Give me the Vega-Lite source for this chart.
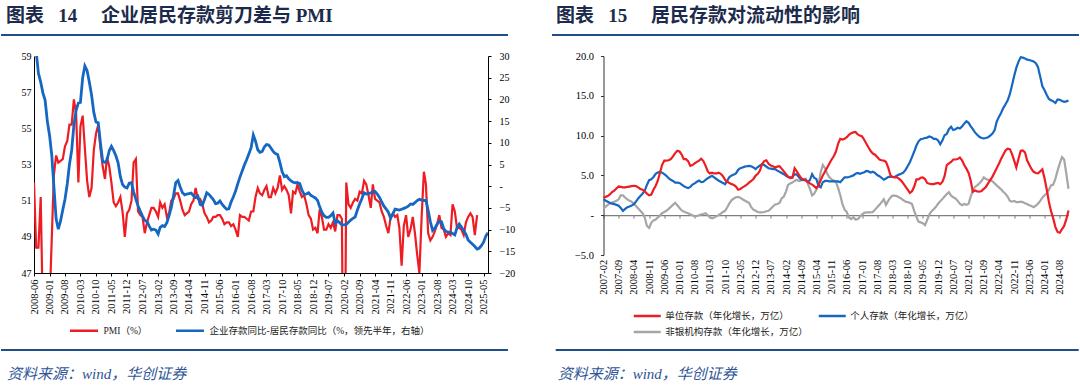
{
  "$schema": "https://vega.github.io/schema/vega-lite/v6.json",
  "autosize": {"type": "pad"},
  "padding": {"left": 0, "top": 7, "right": 0, "bottom": 0},
  "background": "white",
  "config": {
    "view": {"stroke": null},
    "axis": {"grid": false, "labelFont": "Liberation Serif", "labelColor": "#000", "domainColor": "#000", "tickColor": "#000"},
    "legend": {"labelFont": "Liberation Serif, Noto Sans CJK SC", "labelFontSize": 9.5, "labelColor": "#222", "padding": 0, "labelLimit": 400}
  },
  "datasets": {
    "left": [
      {"month":"2008-06","pmi":52.0,"gap":33},{"month":"2008-07","pmi":48.4,"gap":31},{"month":"2008-08","pmi":48.4,"gap":26},{"month":"2008-09","pmi":51.2,"gap":24},{"month":"2008-10","pmi":44.6,"gap":21.5},{"month":"2008-11","pmi":38.8,"gap":19.8},{"month":"2008-12","pmi":41.2,"gap":15},
      {"month":"2009-01","pmi":45.3,"gap":11.7},{"month":"2009-02","pmi":49.0,"gap":7},{"month":"2009-03","pmi":52.4,"gap":0},{"month":"2009-04","pmi":53.5,"gap":-7.5},{"month":"2009-05","pmi":53.1,"gap":-9.9},{"month":"2009-06","pmi":53.2,"gap":-8},{"month":"2009-07","pmi":53.3,"gap":-5.5},{"month":"2009-08","pmi":54.0,"gap":-3},{"month":"2009-09","pmi":54.3,"gap":0.5},{"month":"2009-10","pmi":55.2,"gap":5},{"month":"2009-11","pmi":55.2,"gap":8.3},{"month":"2009-12","pmi":56.6,"gap":14},
      {"month":"2010-01","pmi":55.8,"gap":17.5},{"month":"2010-02","pmi":52.0,"gap":19.2},{"month":"2010-03","pmi":55.1,"gap":19.3},{"month":"2010-04","pmi":55.7,"gap":25},{"month":"2010-05","pmi":53.9,"gap":27.7},{"month":"2010-06","pmi":52.1,"gap":26.6},{"month":"2010-07","pmi":51.2,"gap":24},{"month":"2010-08","pmi":51.7,"gap":21},{"month":"2010-09","pmi":53.8,"gap":17},{"month":"2010-10","pmi":54.7,"gap":14.8},{"month":"2010-11","pmi":55.2,"gap":14.6},{"month":"2010-12","pmi":53.9,"gap":10},
      {"month":"2011-01","pmi":52.9,"gap":5.7},{"month":"2011-02","pmi":52.2,"gap":5.5},{"month":"2011-03","pmi":53.4,"gap":6},{"month":"2011-04","pmi":52.9,"gap":8.2},{"month":"2011-05","pmi":52.0,"gap":9.2},{"month":"2011-06","pmi":50.9,"gap":8.2},{"month":"2011-07","pmi":50.7,"gap":7},{"month":"2011-08","pmi":50.9,"gap":5.4},{"month":"2011-09","pmi":51.2,"gap":2.2},{"month":"2011-10","pmi":50.4,"gap":0.4},{"month":"2011-11","pmi":49.0,"gap":-0.2},{"month":"2011-12","pmi":50.3,"gap":-0.4},
      {"month":"2012-01","pmi":50.5,"gap":0.7},{"month":"2012-02","pmi":51.0,"gap":0.8},{"month":"2012-03","pmi":53.1,"gap":-1.3},{"month":"2012-04","pmi":53.3,"gap":-3.0},{"month":"2012-05","pmi":50.4,"gap":-4.5},{"month":"2012-06","pmi":50.2,"gap":-5.8},{"month":"2012-07","pmi":50.1,"gap":-6.9},{"month":"2012-08","pmi":49.2,"gap":-7.9},{"month":"2012-09","pmi":49.8,"gap":-8.1},{"month":"2012-10","pmi":50.2,"gap":-9.2},{"month":"2012-11","pmi":50.6,"gap":-10.1},{"month":"2012-12","pmi":50.6,"gap":-9.9},
      {"month":"2013-01","pmi":50.4,"gap":-10.1},{"month":"2013-02","pmi":50.1,"gap":-11},{"month":"2013-03","pmi":50.9,"gap":-9.5},{"month":"2013-04","pmi":50.6,"gap":-9.1},{"month":"2013-05","pmi":50.8,"gap":-9.3},{"month":"2013-06","pmi":50.1,"gap":-8.4},{"month":"2013-07","pmi":50.3,"gap":-6.8},{"month":"2013-08","pmi":51.0,"gap":-4.9},{"month":"2013-09","pmi":51.1,"gap":-2.1},{"month":"2013-10","pmi":51.4,"gap":0.8},{"month":"2013-11","pmi":51.4,"gap":1.3},{"month":"2013-12","pmi":51.0,"gap":-0.2},
      {"month":"2014-01","pmi":50.5,"gap":-1.5},{"month":"2014-02","pmi":50.2,"gap":-2.0},{"month":"2014-03","pmi":50.3,"gap":-1.8},{"month":"2014-04","pmi":50.4,"gap":-1.7},{"month":"2014-05","pmi":50.8,"gap":-1.6},{"month":"2014-06","pmi":51.0,"gap":-2.2},{"month":"2014-07","pmi":51.7,"gap":-2.6},{"month":"2014-08","pmi":51.1,"gap":-2.3},{"month":"2014-09","pmi":51.1,"gap":-4.2},{"month":"2014-10","pmi":50.8,"gap":-4.4},{"month":"2014-11","pmi":50.3,"gap":-3.0},{"month":"2014-12","pmi":50.1,"gap":-1.5},
      {"month":"2015-01","pmi":49.8,"gap":-1.9},{"month":"2015-02","pmi":49.9,"gap":-2.5},{"month":"2015-03","pmi":50.1,"gap":-3.1},{"month":"2015-04","pmi":50.1,"gap":-4.0},{"month":"2015-05","pmi":50.2,"gap":-3.9},{"month":"2015-06","pmi":50.2,"gap":-3.4},{"month":"2015-07","pmi":50.0,"gap":-4.2},{"month":"2015-08","pmi":49.7,"gap":-4.8},{"month":"2015-09","pmi":49.8,"gap":-5.3},{"month":"2015-10","pmi":49.8,"gap":-5.2},{"month":"2015-11","pmi":49.6,"gap":-3.6},{"month":"2015-12","pmi":49.7,"gap":-2.5},
      {"month":"2016-01","pmi":49.4,"gap":-1.1},{"month":"2016-02","pmi":49.0,"gap":0.6},{"month":"2016-03","pmi":50.2,"gap":2.1},{"month":"2016-04","pmi":50.1,"gap":3.5},{"month":"2016-05","pmi":50.1,"gap":4.9},{"month":"2016-06","pmi":50.0,"gap":6.1},{"month":"2016-07","pmi":49.9,"gap":7.4},{"month":"2016-08","pmi":50.4,"gap":8.8},{"month":"2016-09","pmi":50.4,"gap":11.8},{"month":"2016-10","pmi":51.2,"gap":10.4},{"month":"2016-11","pmi":51.7,"gap":8.4},{"month":"2016-12","pmi":51.4,"gap":7.8},
      {"month":"2017-01","pmi":51.3,"gap":8.0},{"month":"2017-02","pmi":51.6,"gap":9.1},{"month":"2017-03","pmi":51.8,"gap":9.6},{"month":"2017-04","pmi":51.2,"gap":9.5},{"month":"2017-05","pmi":51.2,"gap":8.8},{"month":"2017-06","pmi":51.7,"gap":8.0},{"month":"2017-07","pmi":51.4,"gap":7.5},{"month":"2017-08","pmi":51.7,"gap":7.3},{"month":"2017-09","pmi":52.4,"gap":5.5},{"month":"2017-10","pmi":51.6,"gap":3.4},{"month":"2017-11","pmi":51.8,"gap":2.2},{"month":"2017-12","pmi":51.6,"gap":2.4},
      {"month":"2018-01","pmi":51.3,"gap":1.7},{"month":"2018-02","pmi":50.3,"gap":1.2},{"month":"2018-03","pmi":51.5,"gap":0.9},{"month":"2018-04","pmi":51.4,"gap":0.8},{"month":"2018-05","pmi":51.9,"gap":0.8},{"month":"2018-06","pmi":51.5,"gap":0.6},{"month":"2018-07","pmi":51.2,"gap":-0.9},{"month":"2018-08","pmi":51.3,"gap":-1.9},{"month":"2018-09","pmi":50.8,"gap":-1.8},{"month":"2018-10","pmi":50.2,"gap":-1.5},{"month":"2018-11","pmi":50.0,"gap":-2.1},{"month":"2018-12","pmi":49.4,"gap":-2.4},
      {"month":"2019-01","pmi":49.5,"gap":-2.7},{"month":"2019-02","pmi":49.2,"gap":-3.3},{"month":"2019-03","pmi":50.5,"gap":-4.7},{"month":"2019-04","pmi":50.1,"gap":-6.0},{"month":"2019-05","pmi":49.4,"gap":-6.8},{"month":"2019-06","pmi":49.4,"gap":-7.2},{"month":"2019-07","pmi":49.7,"gap":-7.2},{"month":"2019-08","pmi":49.5,"gap":-6.8},{"month":"2019-09","pmi":49.8,"gap":-6.2},{"month":"2019-10","pmi":49.3,"gap":-8.5},{"month":"2019-11","pmi":50.2,"gap":-8.0},{"month":"2019-12","pmi":50.2,"gap":-8.4},
      {"month":"2020-01","pmi":50.0,"gap":-8.9},{"month":"2020-02","pmi":35.7,"gap":-8.9},{"month":"2020-03","pmi":52.0,"gap":-8.8},{"month":"2020-04","pmi":50.8,"gap":-8.3},{"month":"2020-05","pmi":50.6,"gap":-7.8},{"month":"2020-06","pmi":50.9,"gap":-7.4},{"month":"2020-07","pmi":51.1,"gap":-7.1},{"month":"2020-08","pmi":51.0,"gap":-5.5},{"month":"2020-09","pmi":51.5,"gap":-4.1},{"month":"2020-10","pmi":51.4,"gap":-2.9},{"month":"2020-11","pmi":52.1,"gap":-1.5},{"month":"2020-12","pmi":51.9,"gap":-1.8},
      {"month":"2021-01","pmi":51.3,"gap":-1.7},{"month":"2021-02","pmi":50.6,"gap":-1.5},{"month":"2021-03","pmi":51.9,"gap":-1.3},{"month":"2021-04","pmi":51.1,"gap":-1.2},{"month":"2021-05","pmi":51.0,"gap":-1.8},{"month":"2021-06","pmi":50.9,"gap":-2.6},{"month":"2021-07","pmi":50.4,"gap":-3.6},{"month":"2021-08","pmi":50.1,"gap":-4.6},{"month":"2021-09","pmi":49.6,"gap":-5.3},{"month":"2021-10","pmi":49.2,"gap":-6.0},{"month":"2021-11","pmi":50.1,"gap":-7.4},{"month":"2021-12","pmi":50.3,"gap":-6.4},
      {"month":"2022-01","pmi":50.1,"gap":-5.3},{"month":"2022-02","pmi":50.2,"gap":-5.4},{"month":"2022-03","pmi":49.5,"gap":-5.5},{"month":"2022-04","pmi":47.4,"gap":-5.3},{"month":"2022-05","pmi":49.6,"gap":-5.1},{"month":"2022-06","pmi":50.2,"gap":-4.9},{"month":"2022-07","pmi":49.0,"gap":-4.6},{"month":"2022-08","pmi":49.4,"gap":-4.1},{"month":"2022-09","pmi":50.1,"gap":-4.2},{"month":"2022-10","pmi":49.2,"gap":-3.8},{"month":"2022-11","pmi":48.0,"gap":-3.3},{"month":"2022-12","pmi":47.0,"gap":-3.0},
      {"month":"2023-01","pmi":50.1,"gap":-3.2},{"month":"2023-02","pmi":52.6,"gap":-3.3},{"month":"2023-03","pmi":51.9,"gap":-3.2},{"month":"2023-04","pmi":49.2,"gap":-5.6},{"month":"2023-05","pmi":48.8,"gap":-8.2},{"month":"2023-06","pmi":49.0,"gap":-10.2},{"month":"2023-07","pmi":49.3,"gap":-9.7},{"month":"2023-08","pmi":49.7,"gap":-8.8},{"month":"2023-09","pmi":50.2,"gap":-8.1},{"month":"2023-10","pmi":49.5,"gap":-8.2},{"month":"2023-11","pmi":49.4,"gap":-9.8},{"month":"2023-12","pmi":49.0,"gap":-10.4},
      {"month":"2024-01","pmi":49.2,"gap":-10.6},{"month":"2024-02","pmi":49.1,"gap":-10.6},{"month":"2024-03","pmi":50.8,"gap":-10.9},{"month":"2024-04","pmi":50.4,"gap":-11.2},{"month":"2024-05","pmi":49.5,"gap":-9.6},{"month":"2024-06","pmi":49.5,"gap":-8.7},{"month":"2024-07","pmi":49.4,"gap":-9.4},{"month":"2024-08","pmi":49.1,"gap":-10.2},{"month":"2024-09","pmi":49.8,"gap":-11.1},{"month":"2024-10","pmi":50.1,"gap":-12.4},{"month":"2024-11","pmi":50.3,"gap":-12.9},{"month":"2024-12","pmi":50.1,"gap":-13.4},
      {"month":"2025-01","pmi":49.1,"gap":-13.9},{"month":"2025-02","pmi":50.2,"gap":-14.5},{"month":"2025-03","pmi":null,"gap":-14.3},{"month":"2025-04","pmi":null,"gap":-13.7},{"month":"2025-05","pmi":null,"gap":-12.9},{"month":"2025-06","pmi":null,"gap":-11.5},{"month":"2025-07","pmi":null,"gap":-10.7}
    ],
    "right": [
      {"month":"2007-02","corp":2.2,"household":2.0,"nonbank":0.8},{"month":"2007-03","corp":2.3,"household":1.85,"nonbank":1.05},{"month":"2007-04","corp":2.4,"household":1.7,"nonbank":1.3},{"month":"2007-05","corp":2.6,"household":1.55,"nonbank":1.45},{"month":"2007-06","corp":2.9,"household":1.45,"nonbank":1.6},{"month":"2007-07","corp":3.1,"household":1.4,"nonbank":1.7},{"month":"2007-08","corp":3.35,"household":1.3,"nonbank":1.8},{"month":"2007-09","corp":3.6,"household":1.2,"nonbank":2.0},{"month":"2007-10","corp":3.55,"household":0.9,"nonbank":2.5},{"month":"2007-11","corp":3.5,"household":0.55,"nonbank":2.5},{"month":"2007-12","corp":3.5,"household":0.8,"nonbank":2.2},
      {"month":"2008-01","corp":3.55,"household":1.0,"nonbank":2.0},{"month":"2008-02","corp":3.6,"household":1.1,"nonbank":1.8},{"month":"2008-03","corp":3.65,"household":1.2,"nonbank":1.7},{"month":"2008-04","corp":3.7,"household":1.4,"nonbank":1.45},{"month":"2008-05","corp":3.65,"household":1.7,"nonbank":1.15},{"month":"2008-06","corp":3.5,"household":2.1,"nonbank":0.85},{"month":"2008-07","corp":3.3,"household":2.4,"nonbank":0.55},{"month":"2008-08","corp":3.2,"household":2.7,"nonbank":0.25},{"month":"2008-09","corp":3.0,"household":3.1,"nonbank":-0.3},{"month":"2008-10","corp":2.7,"household":3.8,"nonbank":-1.35},{"month":"2008-11","corp":2.5,"household":4.4,"nonbank":-1.6},{"month":"2008-12","corp":2.6,"household":4.5,"nonbank":-0.95},
      {"month":"2009-01","corp":3.2,"household":4.8,"nonbank":-0.65},{"month":"2009-02","corp":3.7,"household":5.2,"nonbank":-0.55},{"month":"2009-03","corp":4.3,"household":5.35,"nonbank":-0.3},{"month":"2009-04","corp":5.3,"household":5.45,"nonbank":-0.05},{"month":"2009-05","corp":6.3,"household":5.35,"nonbank":0.25},{"month":"2009-06","corp":6.85,"household":5.15,"nonbank":0.4},{"month":"2009-07","corp":6.85,"household":4.95,"nonbank":0.55},{"month":"2009-08","corp":6.9,"household":4.65,"nonbank":0.8},{"month":"2009-09","corp":7.05,"household":4.45,"nonbank":1.05},{"month":"2009-10","corp":7.4,"household":4.3,"nonbank":1.3},{"month":"2009-11","corp":7.8,"household":4.1,"nonbank":1.55},{"month":"2009-12","corp":8.1,"household":4.1,"nonbank":1.25},
      {"month":"2010-01","corp":8.0,"household":4.05,"nonbank":0.9},{"month":"2010-02","corp":7.6,"household":3.85,"nonbank":0.6},{"month":"2010-03","corp":7.05,"household":3.65,"nonbank":0.45},{"month":"2010-04","corp":7.05,"household":3.5,"nonbank":0.35},{"month":"2010-05","corp":6.8,"household":3.4,"nonbank":0.25},{"month":"2010-06","corp":6.2,"household":3.55,"nonbank":0.1},{"month":"2010-07","corp":6.3,"household":3.85,"nonbank":0},{"month":"2010-08","corp":6.5,"household":4.0,"nonbank":-0.15},{"month":"2010-09","corp":6.7,"household":4.2,"nonbank":-0.1},{"month":"2010-10","corp":6.85,"household":4.35,"nonbank":0},{"month":"2010-11","corp":7.1,"household":4.15,"nonbank":0.1},{"month":"2010-12","corp":6.8,"household":4.2,"nonbank":0.15},
      {"month":"2011-01","corp":6.2,"household":4.45,"nonbank":0.25},{"month":"2011-02","corp":5.5,"household":4.65,"nonbank":0},{"month":"2011-03","corp":5.25,"household":4.8,"nonbank":-0.25},{"month":"2011-04","corp":5.35,"household":4.95,"nonbank":-0.4},{"month":"2011-05","corp":5.25,"household":4.75,"nonbank":-0.3},{"month":"2011-06","corp":5.25,"household":4.55,"nonbank":-0.15},{"month":"2011-07","corp":5.35,"household":4.35,"nonbank":0},{"month":"2011-08","corp":5.2,"household":4.2,"nonbank":0.2},{"month":"2011-09","corp":4.9,"household":4.05,"nonbank":0.4},{"month":"2011-10","corp":4.45,"household":3.9,"nonbank":0.55},{"month":"2011-11","corp":4.2,"household":4.35,"nonbank":1.0},{"month":"2011-12","corp":4.05,"household":4.8,"nonbank":1.5},
      {"month":"2012-01","corp":3.9,"household":5.0,"nonbank":1.9},{"month":"2012-02","corp":3.8,"household":5.1,"nonbank":2.1},{"month":"2012-03","corp":3.6,"household":5.25,"nonbank":2.25},{"month":"2012-04","corp":3.2,"household":5.7,"nonbank":2.3},{"month":"2012-05","corp":3.3,"household":5.9,"nonbank":2.2},{"month":"2012-06","corp":3.5,"household":6.0,"nonbank":2.0},{"month":"2012-07","corp":3.65,"household":6.1,"nonbank":1.85},{"month":"2012-08","corp":3.85,"household":6.15,"nonbank":1.7},{"month":"2012-09","corp":4.1,"household":6.2,"nonbank":1.55},{"month":"2012-10","corp":4.3,"household":6.15,"nonbank":1.0},{"month":"2012-11","corp":4.55,"household":6.0,"nonbank":0.7},{"month":"2012-12","corp":4.95,"household":5.8,"nonbank":0.55},
      {"month":"2013-01","corp":5.2,"household":6.05,"nonbank":0.4},{"month":"2013-02","corp":5.6,"household":6.25,"nonbank":0.35},{"month":"2013-03","corp":6.4,"household":6.4,"nonbank":0.35},{"month":"2013-04","corp":6.8,"household":6.3,"nonbank":0.4},{"month":"2013-05","corp":6.9,"household":6.1,"nonbank":0.5},{"month":"2013-06","corp":6.45,"household":5.9,"nonbank":0.55},{"month":"2013-07","corp":6.25,"household":5.85,"nonbank":0.8},{"month":"2013-08","corp":6.15,"household":5.8,"nonbank":1.1},{"month":"2013-09","corp":6.0,"household":5.8,"nonbank":1.35},{"month":"2013-10","corp":6.1,"household":5.6,"nonbank":1.4},{"month":"2013-11","corp":6.15,"household":5.45,"nonbank":1.55},{"month":"2013-12","corp":5.85,"household":5.3,"nonbank":2.1},
      {"month":"2014-01","corp":5.5,"household":5.15,"nonbank":2.35},{"month":"2014-02","corp":5.15,"household":4.95,"nonbank":3.0},{"month":"2014-03","corp":4.85,"household":4.8,"nonbank":3.8},{"month":"2014-04","corp":4.65,"household":4.75,"nonbank":4.0},{"month":"2014-05","corp":4.7,"household":4.8,"nonbank":4.1},{"month":"2014-06","corp":5.9,"household":5.15,"nonbank":4.3},{"month":"2014-07","corp":5.5,"household":5.1,"nonbank":4.45},{"month":"2014-08","corp":5.05,"household":4.75,"nonbank":4.3},{"month":"2014-09","corp":4.65,"household":4.45,"nonbank":4.4},{"month":"2014-10","corp":4.5,"household":4.4,"nonbank":4.5},{"month":"2014-11","corp":4.35,"household":4.45,"nonbank":4.6},{"month":"2014-12","corp":4.2,"household":4.2,"nonbank":4.0},
      {"month":"2015-01","corp":4.0,"household":4.4,"nonbank":3.3},{"month":"2015-02","corp":3.85,"household":5.15,"nonbank":2.5},{"month":"2015-03","corp":3.65,"household":4.7,"nonbank":2.7},{"month":"2015-04","corp":3.4,"household":4.55,"nonbank":3.2},{"month":"2015-05","corp":3.7,"household":3.7,"nonbank":3.8},{"month":"2015-06","corp":4.4,"household":3.5,"nonbank":5.4},{"month":"2015-07","corp":5.0,"household":4.15,"nonbank":6.3},{"month":"2015-08","corp":5.5,"household":4.3,"nonbank":5.9},{"month":"2015-09","corp":6.0,"household":4.3,"nonbank":5.2},{"month":"2015-10","corp":6.5,"household":4.25,"nonbank":4.75},{"month":"2015-11","corp":7.0,"household":4.25,"nonbank":4.5},{"month":"2015-12","corp":7.4,"household":4.25,"nonbank":4.35},
      {"month":"2016-01","corp":8.0,"household":4.25,"nonbank":4.2},{"month":"2016-02","corp":9.0,"household":4.25,"nonbank":3.4},{"month":"2016-03","corp":9.6,"household":4.15,"nonbank":2.5},{"month":"2016-04","corp":9.5,"household":4.45,"nonbank":1.4},{"month":"2016-05","corp":9.6,"household":4.75,"nonbank":0.7},{"month":"2016-06","corp":9.8,"household":4.75,"nonbank":0.4},{"month":"2016-07","corp":10.1,"household":4.8,"nonbank":-0.3},{"month":"2016-08","corp":10.3,"household":4.9,"nonbank":-0.5},{"month":"2016-09","corp":10.4,"household":5.0,"nonbank":-0.25},{"month":"2016-10","corp":10.45,"household":5.2,"nonbank":-0.55},{"month":"2016-11","corp":10.15,"household":5.3,"nonbank":-0.5},{"month":"2016-12","corp":10.0,"household":5.2,"nonbank":-0.2},
      {"month":"2017-01","corp":9.9,"household":5.3,"nonbank":0.1},{"month":"2017-02","corp":9.45,"household":5.4,"nonbank":0.3},{"month":"2017-03","corp":9.0,"household":5.55,"nonbank":0.35},{"month":"2017-04","corp":8.5,"household":5.5,"nonbank":0.35},{"month":"2017-05","corp":8.05,"household":5.35,"nonbank":0.35},{"month":"2017-06","corp":7.75,"household":5.45,"nonbank":0.4},{"month":"2017-07","corp":7.6,"household":5.3,"nonbank":0.7},{"month":"2017-08","corp":7.3,"household":5.05,"nonbank":1.0},{"month":"2017-09","corp":7.0,"household":4.9,"nonbank":1.3},{"month":"2017-10","corp":6.9,"household":4.7,"nonbank":1.65},{"month":"2017-11","corp":6.85,"household":4.45,"nonbank":2.0},{"month":"2017-12","corp":6.7,"household":4.6,"nonbank":1.3},
      {"month":"2018-01","corp":6.0,"household":4.8,"nonbank":1.8},{"month":"2018-02","corp":5.05,"household":4.85,"nonbank":2.2},{"month":"2018-03","corp":4.8,"household":4.8,"nonbank":2.45},{"month":"2018-04","corp":4.75,"household":4.8,"nonbank":2.45},{"month":"2018-05","corp":4.75,"household":4.95,"nonbank":2.4},{"month":"2018-06","corp":4.6,"household":5.1,"nonbank":2.25},{"month":"2018-07","corp":4.35,"household":5.2,"nonbank":2.1},{"month":"2018-08","corp":4.0,"household":5.35,"nonbank":1.9},{"month":"2018-09","corp":3.6,"household":5.7,"nonbank":1.7},{"month":"2018-10","corp":3.2,"household":6.15,"nonbank":1.65},{"month":"2018-11","corp":2.8,"household":6.65,"nonbank":1.55},{"month":"2018-12","corp":3.0,"household":7.3,"nonbank":1.4},
      {"month":"2019-01","corp":3.6,"household":8.0,"nonbank":0.55},{"month":"2019-02","corp":4.5,"household":8.75,"nonbank":-0.2},{"month":"2019-03","corp":4.5,"household":9.25,"nonbank":-0.8},{"month":"2019-04","corp":4.7,"household":9.55,"nonbank":-0.9},{"month":"2019-05","corp":4.75,"household":9.6,"nonbank":-1.0},{"month":"2019-06","corp":4.55,"household":9.7,"nonbank":-1.25},{"month":"2019-07","corp":4.05,"household":9.75,"nonbank":-0.6},{"month":"2019-08","corp":3.95,"household":9.9,"nonbank":0.1},{"month":"2019-09","corp":3.9,"household":9.8,"nonbank":0.5},{"month":"2019-10","corp":3.9,"household":9.6,"nonbank":0.75},{"month":"2019-11","corp":4.0,"household":9.6,"nonbank":1.05},{"month":"2019-12","corp":4.05,"household":9.4,"nonbank":1.45},
      {"month":"2020-01","corp":3.9,"household":8.9,"nonbank":1.75},{"month":"2020-02","corp":4.2,"household":9.4,"nonbank":2.05},{"month":"2020-03","corp":4.9,"household":10.05,"nonbank":2.35},{"month":"2020-04","corp":6.3,"household":10.2,"nonbank":2.65},{"month":"2020-05","corp":6.5,"household":10.8,"nonbank":2.9},{"month":"2020-06","corp":6.7,"household":11.1,"nonbank":2.45},{"month":"2020-07","corp":7.0,"household":10.7,"nonbank":2.25},{"month":"2020-08","corp":7.0,"household":10.8,"nonbank":2.1},{"month":"2020-09","corp":7.05,"household":11.0,"nonbank":1.8},{"month":"2020-10","corp":7.25,"household":10.9,"nonbank":1.45},{"month":"2020-11","corp":6.9,"household":11.15,"nonbank":1.25},{"month":"2020-12","corp":6.3,"household":11.5,"nonbank":1.4},
      {"month":"2021-01","corp":5.85,"household":11.8,"nonbank":1.3},{"month":"2021-02","corp":5.3,"household":11.6,"nonbank":1.45},{"month":"2021-03","corp":4.4,"household":11.2,"nonbank":2.3},{"month":"2021-04","corp":2.95,"household":10.8,"nonbank":3.1},{"month":"2021-05","corp":3.1,"household":10.4,"nonbank":3.55},{"month":"2021-06","corp":3.0,"household":10.1,"nonbank":3.75},{"month":"2021-07","corp":2.95,"household":9.85,"nonbank":4.0},{"month":"2021-08","corp":3.05,"household":9.7,"nonbank":4.3},{"month":"2021-09","corp":3.3,"household":9.65,"nonbank":4.75},{"month":"2021-10","corp":3.55,"household":9.7,"nonbank":4.55},{"month":"2021-11","corp":4.0,"household":9.8,"nonbank":4.45},{"month":"2021-12","corp":4.4,"household":10.0,"nonbank":4.45},
      {"month":"2022-01","corp":4.85,"household":10.25,"nonbank":4.25},{"month":"2022-02","corp":5.4,"household":10.7,"nonbank":4.0},{"month":"2022-03","corp":5.9,"household":11.75,"nonbank":3.75},{"month":"2022-04","corp":6.45,"household":12.35,"nonbank":3.5},{"month":"2022-05","corp":7.05,"household":12.85,"nonbank":3.25},{"month":"2022-06","corp":7.6,"household":13.45,"nonbank":2.95},{"month":"2022-07","corp":8.1,"household":13.9,"nonbank":2.7},{"month":"2022-08","corp":8.35,"household":14.4,"nonbank":2.35},{"month":"2022-09","corp":8.3,"household":15.2,"nonbank":1.8},{"month":"2022-10","corp":7.7,"household":16.3,"nonbank":1.7},{"month":"2022-11","corp":6.85,"household":17.5,"nonbank":1.8},{"month":"2022-12","corp":6.0,"household":18.5,"nonbank":1.65},
      {"month":"2023-01","corp":7.1,"household":19.3,"nonbank":1.65},{"month":"2023-02","corp":8.1,"household":19.85,"nonbank":1.7},{"month":"2023-03","corp":8.15,"household":19.8,"nonbank":1.65},{"month":"2023-04","corp":7.9,"household":19.7,"nonbank":1.5},{"month":"2023-05","corp":6.9,"household":19.55,"nonbank":1.4},{"month":"2023-06","corp":6.35,"household":19.5,"nonbank":1.25},{"month":"2023-07","corp":5.8,"household":19.4,"nonbank":1.15},{"month":"2023-08","corp":5.45,"household":19.3,"nonbank":1.0},{"month":"2023-09","corp":5.3,"household":19.1,"nonbank":1.2},{"month":"2023-10","corp":5.25,"household":18.6,"nonbank":1.45},{"month":"2023-11","corp":5.5,"household":17.4,"nonbank":1.8},{"month":"2023-12","corp":5.75,"household":16.2,"nonbank":2.2},
      {"month":"2024-01","corp":4.6,"household":15.7,"nonbank":2.5},{"month":"2024-02","corp":3.2,"household":15.1,"nonbank":2.75},{"month":"2024-03","corp":1.7,"household":14.6,"nonbank":3.2},{"month":"2024-04","corp":0.5,"household":14.45,"nonbank":3.75},{"month":"2024-05","corp":-0.4,"household":14.3,"nonbank":3.85},{"month":"2024-06","corp":-1.5,"household":14.1,"nonbank":4.6},{"month":"2024-07","corp":-2.1,"household":14.55,"nonbank":5.6},{"month":"2024-08","corp":-2.2,"household":14.5,"nonbank":6.5},{"month":"2024-09","corp":-1.75,"household":14.35,"nonbank":7.3},{"month":"2024-10","corp":-1.35,"household":14.25,"nonbank":7.0},{"month":"2024-11","corp":-0.5,"household":14.3,"nonbank":5.2},{"month":"2024-12","corp":0.6,"household":14.4,"nonbank":3.3}
    ]
  },
  "spacing": 15,
  "vconcat": [
    {
      "spacing": 42,
      "hconcat": [
        {
          "width": 507, "height": 1,
          "data": {"values": [{"v": 0}]},
          "mark": {"type": "rule", "color": "#1f4e8a", "strokeWidth": 2},
          "encoding": {"y": {"field": "v", "type": "quantitative", "axis": null, "scale": {"domain": [0, 1]}}},
          "title": {"text": "图表\u00a0\u00a0\u00a014\u3000\u00a0企业居民存款剪刀差与 PMI", "anchor": "start", "orient": "top", "dx": 6, "offset": 8, "font": "Liberation Serif, Noto Sans CJK SC", "fontSize": 19, "fontWeight": "bold", "color": "#1c2b4b"}
        },
        {
          "width": 527, "height": 1,
          "data": {"values": [{"v": 0}]},
          "mark": {"type": "rule", "color": "#1f4e8a", "strokeWidth": 2},
          "encoding": {"y": {"field": "v", "type": "quantitative", "axis": null, "scale": {"domain": [0, 1]}}},
          "title": {"text": "图表\u00a0\u00a0\u00a015\u3000\u00a0居民存款对流动性的影响", "anchor": "start", "orient": "top", "dx": 5, "offset": 8, "font": "Liberation Serif, Noto Sans CJK SC", "fontSize": 19, "fontWeight": "bold", "color": "#1c2b4b"}
        }
      ]
    },
    {
      "spacing": 12,
      "vconcat": [
        {
          "spacing": 37.5,
          "resolve": {"scale": {"color": "independent"}, "legend": {"color": "independent"}},
          "hconcat": [
            {
              "spacing": 0,
              "resolve": {"scale": {"color": "independent"}, "legend": {"color": "independent"}},
              "hconcat": [
                {
                  "width": 1, "height": 1,
                  "data": {"values": [{"k": 0}]},
                  "mark": {"type": "point", "opacity": 0, "size": 0},
                  "encoding": {}
                },
                {
                  "width": 454, "height": 217,
                  "data": {"name": "left", "format": {"parse": {"month": "utc:'%Y-%m'"}}},
                  "resolve": {"scale": {"y": "independent"}},
                  "encoding": {
                    "x": {"field": "month", "type": "temporal", "scale": {"type": "utc", "nice": false},
                      "axis": {"title": null, "values": [{"year":2008,"month":6,"utc":true},{"year":2009,"month":1,"utc":true},{"year":2009,"month":8,"utc":true},{"year":2010,"month":3,"utc":true},{"year":2010,"month":10,"utc":true},{"year":2011,"month":5,"utc":true},{"year":2011,"month":12,"utc":true},{"year":2012,"month":7,"utc":true},{"year":2013,"month":2,"utc":true},{"year":2013,"month":9,"utc":true},{"year":2014,"month":4,"utc":true},{"year":2014,"month":11,"utc":true},{"year":2015,"month":6,"utc":true},{"year":2016,"month":1,"utc":true},{"year":2016,"month":8,"utc":true},{"year":2017,"month":3,"utc":true},{"year":2017,"month":10,"utc":true},{"year":2018,"month":5,"utc":true},{"year":2018,"month":12,"utc":true},{"year":2019,"month":7,"utc":true},{"year":2020,"month":2,"utc":true},{"year":2020,"month":9,"utc":true},{"year":2021,"month":4,"utc":true},{"year":2021,"month":11,"utc":true},{"year":2022,"month":6,"utc":true},{"year":2023,"month":1,"utc":true},{"year":2023,"month":8,"utc":true},{"year":2024,"month":3,"utc":true},{"year":2024,"month":10,"utc":true},{"year":2025,"month":5,"utc":true}],
                        "labelExpr": "utcFormat(datum.value, '%Y-%m')", "labelAngle": 270, "labelFontSize": 10.5, "labelPadding": 3, "tickSize": 3, "labelOverlap": false, "labelFlush": false}}
                  },
                  "layer": [
                    {
                      "mark": {"type": "line", "strokeWidth": 2.2, "clip": true},
                      "encoding": {
                        "y": {"field": "pmi", "type": "quantitative", "scale": {"domain": [47, 59], "nice": false, "zero": false},
                          "axis": {"title": null, "values": [47, 49, 51, 53, 55, 57, 59], "ticks": false, "labelPadding": 3, "labelFontSize": 10, "minExtent": 31.5, "maxExtent": 31.5, "labelFlush": false, "labelOverlap": false}},
                        "color": {"datum": "PMI（%）", "type": "nominal",
                          "scale": {"domain": ["PMI（%）", "企业存款同比-居民存款同比（%，领先半年，右轴）"], "range": ["#ee1d23", "#1567c2"]},
                          "legend": {"title": null, "orient": "none", "direction": "horizontal", "legendX": 34.5, "legendY": 259, "symbolType": "stroke", "symbolSize": 784, "symbolStrokeWidth": 2.5, "labelOffset": 4, "columnPadding": 23}}
                      }
                    },
                    {
                      "mark": {"type": "line", "strokeWidth": 2.8, "clip": true},
                      "encoding": {
                        "y": {"field": "gap", "type": "quantitative", "scale": {"domain": [-20, 30], "nice": false, "zero": false},
                          "axis": {"title": null, "orient": "right", "values": [-20, -15, -10, -5, 0, 5, 10, 15, 20, 25, 30], "labelExpr": "datum.value == 0 ? '-' : datum.label", "tickSize": 3, "labelPadding": 8, "labelFontSize": 10, "minExtent": 25, "maxExtent": 25, "labelFlush": false, "labelOverlap": false}},
                        "color": {"datum": "企业存款同比-居民存款同比（%，领先半年，右轴）", "type": "nominal"}
                      }
                    }
                  ]
                }
              ]
            },
            {
              "width": 465, "height": 199,
              "data": {"name": "right", "format": {"parse": {"month": "utc:'%Y-%m'"}}},
              "transform": [{"fold": ["nonbank", "household", "corp"], "as": ["series", "value"]}],
              "mark": {"type": "line", "strokeWidth": 2.2},
              "encoding": {
                "x": {"field": "month", "type": "temporal", "scale": {"type": "utc", "nice": false},
                  "axis": {"title": null, "orient": "bottom", "offset": -39.8, "values": [{"year":2007,"month":2,"utc":true},{"year":2007,"month":9,"utc":true},{"year":2008,"month":4,"utc":true},{"year":2008,"month":11,"utc":true},{"year":2009,"month":6,"utc":true},{"year":2010,"month":1,"utc":true},{"year":2010,"month":8,"utc":true},{"year":2011,"month":3,"utc":true},{"year":2011,"month":10,"utc":true},{"year":2012,"month":5,"utc":true},{"year":2012,"month":12,"utc":true},{"year":2013,"month":7,"utc":true},{"year":2014,"month":2,"utc":true},{"year":2014,"month":9,"utc":true},{"year":2015,"month":4,"utc":true},{"year":2015,"month":11,"utc":true},{"year":2016,"month":6,"utc":true},{"year":2017,"month":1,"utc":true},{"year":2017,"month":8,"utc":true},{"year":2018,"month":3,"utc":true},{"year":2018,"month":10,"utc":true},{"year":2019,"month":5,"utc":true},{"year":2019,"month":12,"utc":true},{"year":2020,"month":7,"utc":true},{"year":2021,"month":2,"utc":true},{"year":2021,"month":9,"utc":true},{"year":2022,"month":4,"utc":true},{"year":2022,"month":11,"utc":true},{"year":2023,"month":6,"utc":true},{"year":2024,"month":1,"utc":true},{"year":2024,"month":8,"utc":true}],
                    "labelExpr": "utcFormat(datum.value, '%Y-%m')", "labelAngle": 270, "labelFontSize": 10.5, "labelPadding": 41, "domain": true, "domainColor": "#7f7f7f", "domainWidth": 1.2, "ticks": true, "tickColor": "#7f7f7f", "tickSize": 3, "labelOverlap": false, "labelFlush": false}},
                "y": {"field": "value", "type": "quantitative", "scale": {"domain": [-5, 20], "nice": false, "zero": false},
                  "axis": {"title": null, "values": [-5, 0, 5, 10, 15, 20], "labelExpr": "datum.value == 0 ? '-' : format(datum.value, '.1f')", "tickSize": 3, "labelPadding": 7, "labelFontSize": 10.5, "domainColor": "#333", "tickColor": "#333", "minExtent": 50.5, "maxExtent": 50.5, "labelFlush": false, "labelOverlap": false}},
                "color": {"field": "series", "type": "nominal",
                  "scale": {"domain": ["corp", "nonbank", "household"], "range": ["#ee1d23", "#a6a6a6", "#1567c2"]},
                  "legend": {"title": null, "orient": "none", "columns": 2, "legendX": 35.75, "legendY": 252, "symbolType": "M-2,0H2", "symbolSize": 182, "symbolStrokeWidth": 2.5, "labelOffset": 10, "columnPadding": 5, "rowPadding": 3,
                    "labelExpr": "datum.label == 'corp' ? '单位存款（年化增长，万亿）' : datum.label == 'household' ? '个人存款（年化增长，万亿）' : '非银机构存款（年化增长，万亿）'"}}
              }
            }
          ]
        },
        {
          "spacing": 45.7,
          "hconcat": [
            {
              "width": 507, "height": 1,
              "data": {"values": [{"v": 1}]},
              "mark": {"type": "rule", "color": "#1f4e8a", "strokeWidth": 2},
              "encoding": {"y": {"field": "v", "type": "quantitative", "axis": null, "scale": {"domain": [0, 1]}}},
              "title": {"text": "资料来源：wind，华创证券", "anchor": "start", "orient": "bottom", "dx": 7, "offset": 16, "font": "Liberation Serif, Noto Sans CJK SC", "fontSize": 15, "fontStyle": "italic", "fontWeight": "normal", "color": "#2f5597"}
            },
            {
              "width": 523, "height": 1,
              "data": {"values": [{"v": 1}]},
              "mark": {"type": "rule", "color": "#1f4e8a", "strokeWidth": 2},
              "encoding": {"y": {"field": "v", "type": "quantitative", "axis": null, "scale": {"domain": [0, 1]}}},
              "title": {"text": "资料来源：wind，华创证券", "anchor": "start", "orient": "bottom", "dx": 3, "offset": 16, "font": "Liberation Serif, Noto Sans CJK SC", "fontSize": 15, "fontStyle": "italic", "fontWeight": "normal", "color": "#2f5597"}
            }
          ]
        }
      ]
    }
  ]
}
